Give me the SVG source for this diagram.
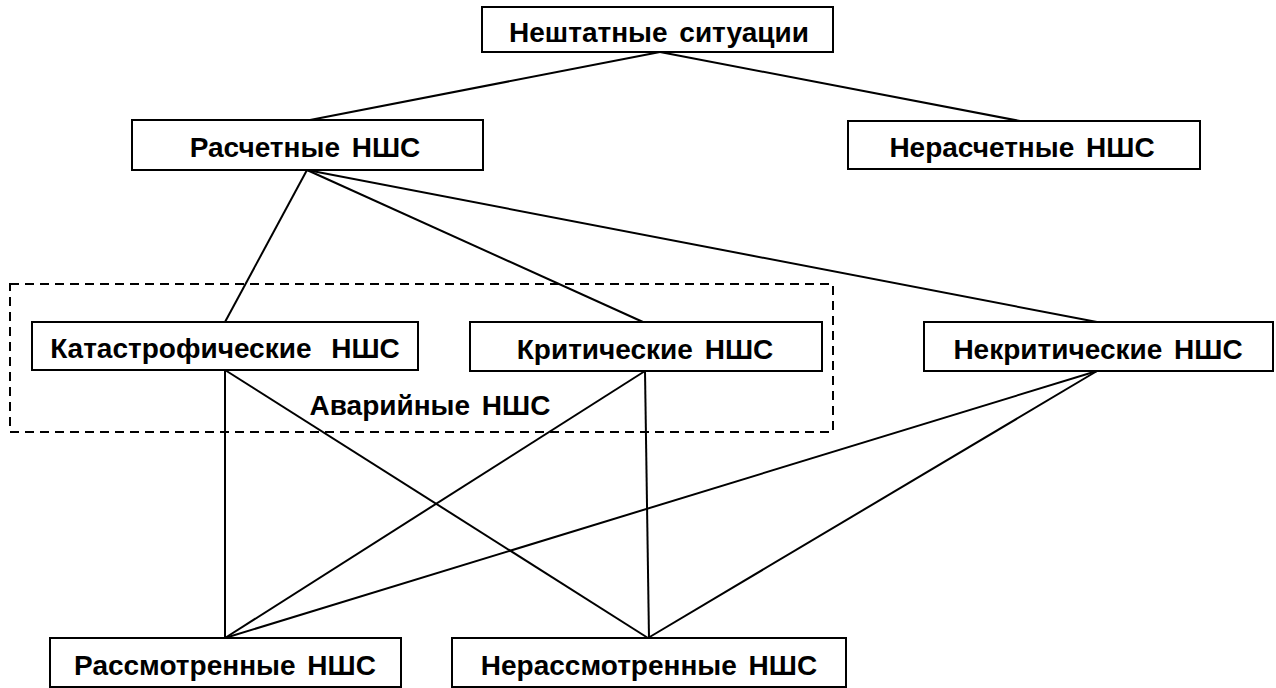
<svg xmlns="http://www.w3.org/2000/svg" width="1276" height="688" viewBox="0 0 1276 688">
  <style>
    .box { fill: #ffffff; stroke: #000000; stroke-width: 2; }
    .lbl { font-family: "Liberation Sans", Arial, sans-serif; font-weight: bold; font-size: 28px; word-spacing: 4px; fill: #000000; text-anchor: middle; }
    .wide { word-spacing: 12px; }
    .edge { stroke: #000000; stroke-width: 2; fill: none; }
    .group { fill: none; stroke: #000000; stroke-width: 2; stroke-dasharray: 9 6; }
  </style>
  <rect width="1276" height="688" fill="#ffffff"/>

  <!-- grouping frame for emergency situations -->
  <g id="emergency-frame">
    <rect class="group" x="10" y="284" width="823" height="148"/>
    <text class="lbl" x="430" y="415">Аварийные НШС</text>
  </g>

  <g id="connectors">
    <line class="edge" x1="660" y1="52" x2="310" y2="120"/>
    <line class="edge" x1="660" y1="52" x2="1020" y2="121"/>
    <line class="edge" x1="307" y1="170" x2="225" y2="322"/>
    <line class="edge" x1="307" y1="170" x2="643" y2="322"/>
    <line class="edge" x1="307" y1="170" x2="1097" y2="322"/>
    <line class="edge" x1="225" y1="370" x2="225" y2="638"/>
    <line class="edge" x1="225" y1="370" x2="648" y2="638"/>
    <line class="edge" x1="645" y1="371" x2="225" y2="638"/>
    <line class="edge" x1="645" y1="371" x2="649" y2="638"/>
    <line class="edge" x1="1097" y1="371" x2="225" y2="638"/>
    <line class="edge" x1="1097" y1="371" x2="648" y2="638"/>
  </g>

  <g id="node-root">
    <rect class="box" x="482" y="7" width="351" height="45"/>
    <text class="lbl" x="659" y="42">Нештатные ситуации</text>
  </g>
  <g id="node-calc">
    <rect class="box" x="132" y="120" width="351" height="50"/>
    <text class="lbl" x="305" y="157">Расчетные НШС</text>
  </g>
  <g id="node-noncalc">
    <rect class="box" x="848" y="121" width="352" height="48"/>
    <text class="lbl" x="1022" y="157">Нерасчетные НШС</text>
  </g>
  <g id="node-catastrophic">
    <rect class="box" x="32" y="322" width="386" height="48"/>
    <text class="lbl wide" x="225" y="358">Катастрофические НШС</text>
  </g>
  <g id="node-critical">
    <rect class="box" x="470" y="322" width="352" height="49"/>
    <text class="lbl" x="645" y="359">Критические НШС</text>
  </g>
  <g id="node-noncritical">
    <rect class="box" x="924" y="322" width="349" height="49"/>
    <text class="lbl" x="1098" y="359">Некритические НШС</text>
  </g>
  <g id="node-considered">
    <rect class="box" x="50" y="638" width="351" height="49"/>
    <text class="lbl" x="225" y="675">Рассмотренные НШС</text>
  </g>
  <g id="node-unconsidered">
    <rect class="box" x="452" y="638" width="394" height="49"/>
    <text class="lbl" x="649" y="675">Нерассмотренные НШС</text>
  </g>
</svg>
